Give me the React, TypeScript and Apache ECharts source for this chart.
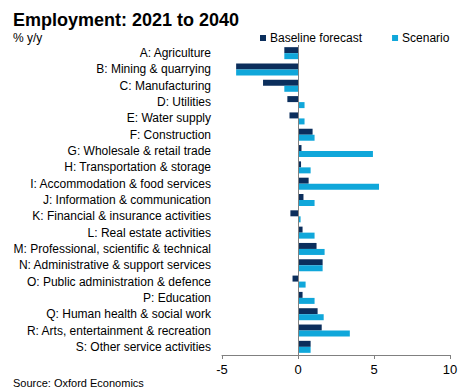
import React, { useEffect, useRef } from "react";
import * as echarts from "echarts";

const categories = [
  "A: Agriculture",
  "B: Mining & quarrying",
  "C: Manufacturing",
  "D: Utilities",
  "E: Water supply",
  "F: Construction",
  "G: Wholesale & retail trade",
  "H: Transportation & storage",
  "I: Accommodation & food services",
  "J: Information & communication",
  "K: Financial & insurance activities",
  "L: Real estate activities",
  "M: Professional, scientific & technical",
  "N: Administrative & support services",
  "O: Public administration & defence",
  "P: Education",
  "Q: Human health & social work",
  "R: Arts, entertainment & recreation",
  "S: Other service activities",
];

const baseline = [-0.9, -4.07, -2.3, -0.7, -0.56, 0.96, 0.23, 0.2, 0.7, 0.36, -0.5, 0.3, 1.22, 1.62, -0.36, 0.3, 1.29, 1.56, 0.83];
const scenario = [-0.9, -4.07, -0.9, 0.43, 0.43, 1.09, 4.93, 0.83, 5.33, 1.09, 0.17, 1.09, 1.75, 1.62, 0.5, 1.09, 1.69, 3.41, 0.83];

const xTicks = [-5, 0, 5, 10];

const FONT = "'Liberation Sans', Arial, sans-serif";

export default function App() {
  const ref = useRef<HTMLDivElement>(null);
  useEffect(() => {
    if (!ref.current) return;
    const chart = echarts.init(ref.current, undefined, { renderer: "svg" });
    chart.setOption({
      animation: false,
      backgroundColor: "#ffffff",
      textStyle: { fontFamily: FONT },
      title: [
        {
          text: "Employment: 2021 to 2040",
          left: 8,
          top: 6,
          textStyle: { fontFamily: FONT, fontSize: 18, fontWeight: "bold", color: "#000" },
        },
        {
          text: "% y/y",
          left: 8,
          top: 27,
          textStyle: { fontFamily: FONT, fontSize: 12, fontWeight: "normal", color: "#000" },
        },
        {
          text: "Source: Oxford Economics",
          left: 8,
          top: 372,
          textStyle: { fontFamily: FONT, fontSize: 11, fontWeight: "normal", color: "#000" },
        },
      ],
      legend: {
        left: 255,
        top: 27,
        icon: "rect",
        itemWidth: 6,
        itemHeight: 6,
        itemGap: 30,
        textStyle: { fontFamily: FONT, fontSize: 12, color: "#000", padding: [0, 0, 0, -1] },
        data: ["Baseline forecast", "Scenario"],
      },
      grid: { left: 222, right: 18, top: 45, bottom: 34, containLabel: false },
      xAxis: {
        type: "value",
        min: -5,
        max: 10,
        interval: 5,
        axisLine: { show: true, lineStyle: { color: "#808080", width: 1 } },
        axisTick: { show: true, length: 4, lineStyle: { color: "#808080" } },
        splitLine: { show: false },
        axisLabel: {
          fontFamily: FONT,
          fontSize: 13,
          color: "#000",
          margin: 8,
          formatter: (v: number) => (xTicks.includes(v) ? String(v) : ""),
        },
      },
      yAxis: {
        type: "category",
        data: categories,
        inverse: true,
        axisLine: { show: false, onZero: false },
        axisTick: { show: false },
        axisLabel: { fontFamily: FONT, fontSize: 12, color: "#000", margin: 11 },
      },
      series: [
        {
          name: "Baseline forecast",
          type: "bar",
          data: baseline,
          barWidth: 6,
          barGap: "0%",
          itemStyle: { color: "#0b2e5c" },
          markLine: {
            silent: true,
            symbol: ["none", "none"],
            label: { show: false },
            lineStyle: { color: "#808080", type: "solid", width: 1 },
            data: [{ xAxis: 0 }],
          },
        },
        {
          name: "Scenario",
          type: "bar",
          data: scenario,
          barWidth: 6,
          barGap: "0%",
          itemStyle: { color: "#10a7da" },
        },
      ],
    });
    return () => chart.dispose();
  }, []);
  return <div ref={ref} style={{ width: 468, height: 389, position: "absolute", left: 0, top: 0 }} />;
}
